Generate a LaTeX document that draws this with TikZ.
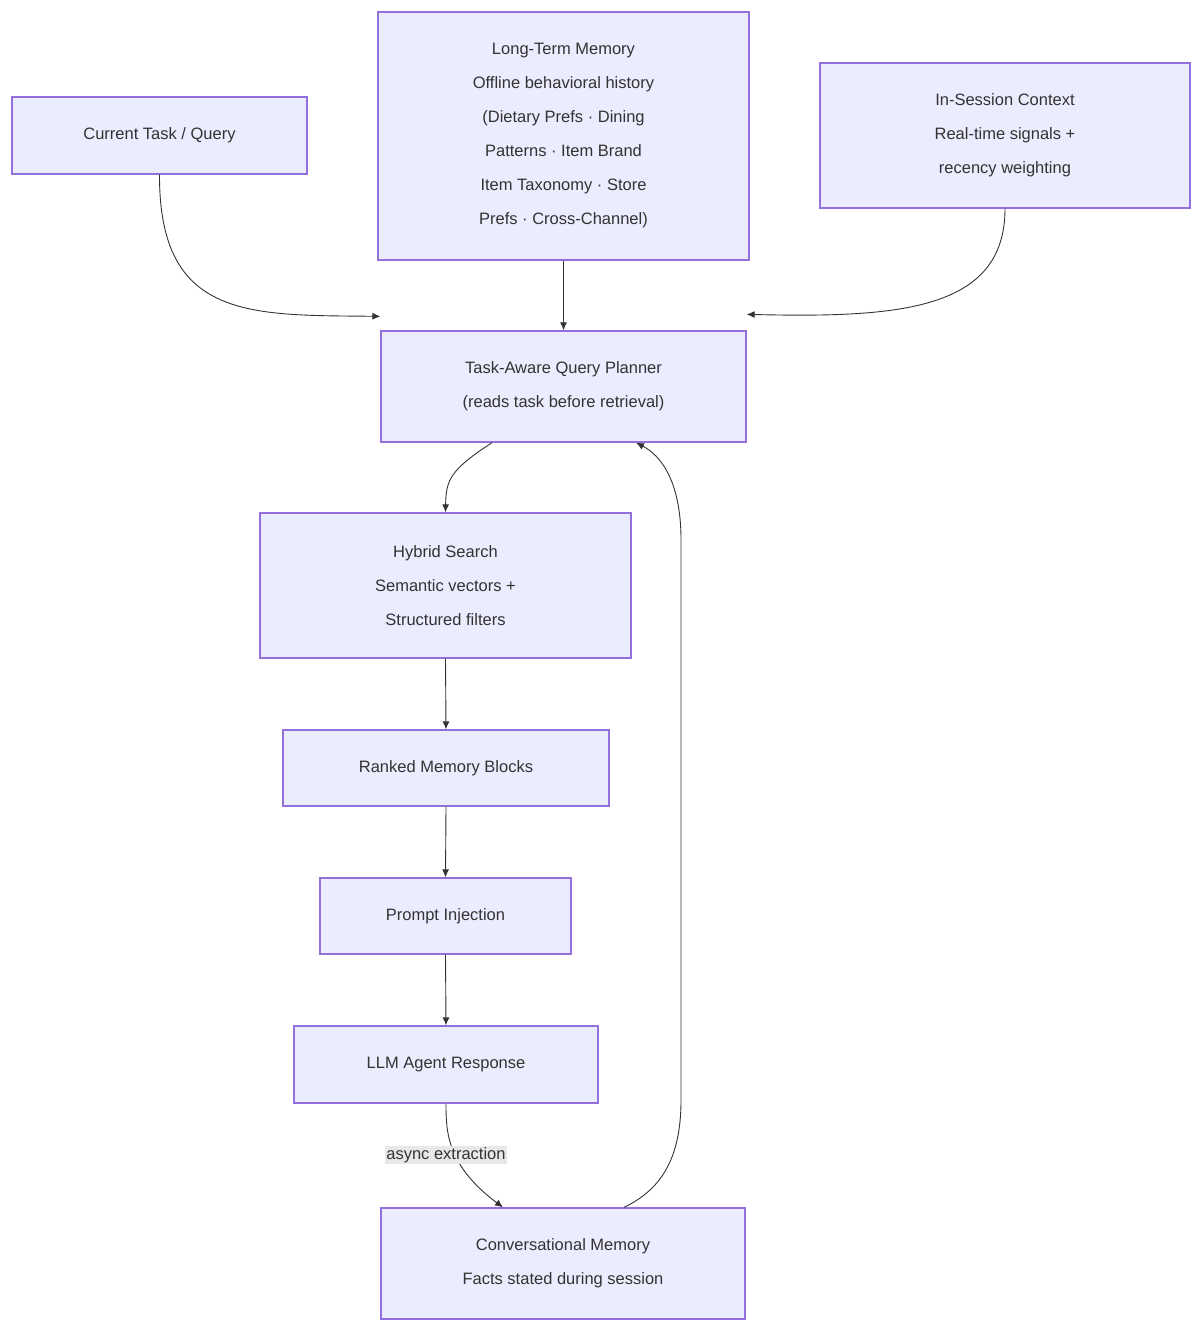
\documentclass[tikz,border=0pt]{standalone}
\usepackage{fontspec}
\setmainfont{Liberation Sans}
\usetikzlibrary{arrows.meta}
\definecolor{nfill}{HTML}{ECECFF}
\definecolor{nline}{HTML}{9370DB}
\definecolor{tx}{HTML}{333333}
\begin{document}
\begin{tikzpicture}[x=1pt,y=-1pt,
  box/.style={draw=nline,fill=nfill,line width=1.3pt,text=tx,align=center,inner sep=0pt,
    font=\fontsize{16.5}{34}\selectfont},
  arr/.style={draw=tx,line width=0.9pt,-{Latex[length=8pt,width=7pt]}}]
\useasboundingbox (0,0) rectangle (1200,1330);
\node[box,minimum width=295pt,minimum height=77pt] (cur) at (159.5,135.5) {Current Task / Query};
\node[box,minimum width=371pt,minimum height=248pt] (lt) at (563.5,136) {Long-Term Memory\\Offline behavioral history\\(Dietary Prefs · Dining\\Patterns · Item Brand\\Item Taxonomy · Store\\Prefs · Cross-Channel)};
\node[box,minimum width=370pt,minimum height=145pt] (ins) at (1005,135.5) {In-Session Context\\Real-time signals +\\recency weighting};
\node[box,minimum width=365pt,minimum height=111pt] (plan) at (563.5,386.5) {Task-Aware Query Planner\\(reads task before retrieval)};
\node[box,minimum width=371pt,minimum height=145pt] (hyb) at (445.5,585.5) {Hybrid Search\\Semantic vectors +\\Structured filters};
\node[box,minimum width=326pt,minimum height=76pt] (rank) at (446,768) {Ranked Memory Blocks};
\node[box,minimum width=251pt,minimum height=76pt] (prom) at (445.5,916) {Prompt Injection};
\node[box,minimum width=304pt,minimum height=77pt] (llm) at (446,1064.5) {LLM Agent Response};
\node[box,minimum width=364pt,minimum height=111pt] (conv) at (563,1263.5) {Conversational Memory\\Facts stated during session};
\coordinate (lbl) at (446,1155);
\draw[arr] (cur.south) .. controls (159,320) and (250,315) .. ([yshift=14pt]plan.north west);
\draw[arr] (lt.south) -- (plan.north);
\draw[arr] (ins.south) .. controls (1005,310) and (900,318) .. ([yshift=16pt]plan.north east);
\draw[arr] ([xshift=-71.5pt]plan.south) .. controls (450,470) and (446,480) .. (hyb.north);
\draw[arr] (hyb.south) -- (rank.north);
\draw[arr] (rank.south) -- (prom.north);
\draw[arr] (prom.south) -- (llm.north);
\draw[arr] (llm.south) .. controls (446,1130) and (446,1165) .. ([xshift=-60pt]conv.north);
\node[fill=black!9,text=tx,inner sep=1.5pt,font=\fontsize{16.5}{20}\selectfont] (al) at (lbl) {async extraction};
\draw[arr] ([xshift=61pt]conv.north) .. controls (660,1190) and (681,1160) .. (681,1100)
  -- (681,540) .. controls (681,480) and (660,455) .. ([xshift=72.5pt]plan.south);
\end{tikzpicture}
\end{document}
